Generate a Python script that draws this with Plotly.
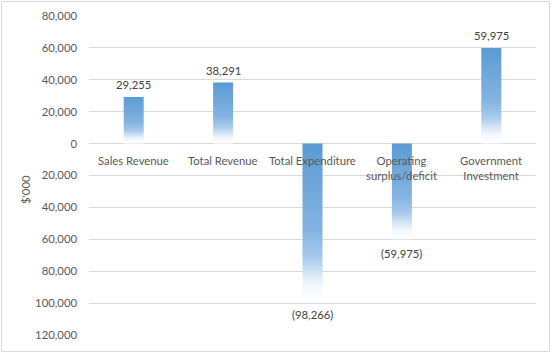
import plotly.graph_objects as go

categories = ["Sales Revenue", "Total Revenue", "Total Expenditure",
              "Operating<br>surplus/deficit", "Government<br>Investment"]
values = [29255, 38291, -98266, -59975, 59975]
tick_values = [80000, 60000, 40000, 20000, 0, -20000, -40000, -60000, -80000, -100000, -120000]
tick_labels = ["80,000", "60,000", "40,000", "20,000", "0", "20,000", "40,000",
               "60,000", "80,000", "100,000", "120,000"]

FONT = "Lato"
FS = 11.3
W, H = 552, 354
L, R, T, B = 89, 16, 16, 19
PW, PH = W - L - R, H - T - B
half = 0.112

gradient = [[0.0, "#ffffff"], [0.1, "#f2f7fc"], [0.28, "#a6c9eb"],
            [0.45, "#84b3e1"], [1.0, "#5b9bd5"]]

fig = go.Figure()
for i, v in enumerate(values):
    y0, y1 = 0, v
    fig.add_trace(go.Scatter(
        x=[i - half, i + half, i + half, i - half, i - half],
        y=[y0, y0, y1, y1, y0],
        mode="lines", fill="toself", line=dict(width=0),
        fillgradient=dict(type="vertical", colorscale=gradient,
                          start=min(y0, y1), stop=max(y0, y1)),
        hoverinfo="skip", showlegend=False))

annotations = []
for i, v in enumerate(values):
    txt = f"{v:,}" if v >= 0 else f"({-v:,})"
    annotations.append(dict(
        x=i, y=v, xref="x", yref="y", text=txt, showarrow=False,
        yanchor="bottom" if v >= 0 else "top",
        yshift=4 if v >= 0 else -6,
        font=dict(family=FONT, size=FS, color="#404040")))
    annotations.append(dict(
        x=i, y=0, xref="x", yref="y", text=categories[i], showarrow=False,
        yanchor="top", yshift=-8,
        font=dict(family=FONT, size=FS, color="#595959")))

annotations.append(dict(
    x=(25 - L) / PW, y=(H - B - 190) / PH, xref="paper", yref="paper",
    xanchor="center", yanchor="middle",
    text="$'000", textangle=-90, showarrow=False,
    font=dict(family=FONT, size=FS, color="#595959")))

fig.update_layout(
    width=W, height=H,
    margin=dict(l=L, r=R, t=T, b=B, autoexpand=False),
    paper_bgcolor="white", plot_bgcolor="white",
    font=dict(family=FONT, size=FS, color="#595959"),
    xaxis=dict(range=[-0.5, 4.5], showgrid=False, showticklabels=False,
               zeroline=False, showline=False, fixedrange=True),
    yaxis=dict(range=[-120000, 80000], tickvals=tick_values, ticktext=tick_labels,
               showgrid=True, gridcolor="#d9d9d9", gridwidth=1,
               zeroline=True, zerolinecolor="#d9d9d9", zerolinewidth=1,
               showline=False, ticks="", ticklabelstandoff=11,
               tickfont=dict(family=FONT, size=FS, color="#595959")),
    annotations=annotations,
    shapes=[dict(type="rect", xref="paper", yref="paper",
                 x0=(1.5 - L) / PW, x1=(549.5 - L) / PW,
                 y0=(H - B - 351.5) / PH, y1=(H - B - 1.5) / PH,
                 line=dict(color="#d9d9d9", width=1), layer="below")],
)

fig.write_html("out.html")
